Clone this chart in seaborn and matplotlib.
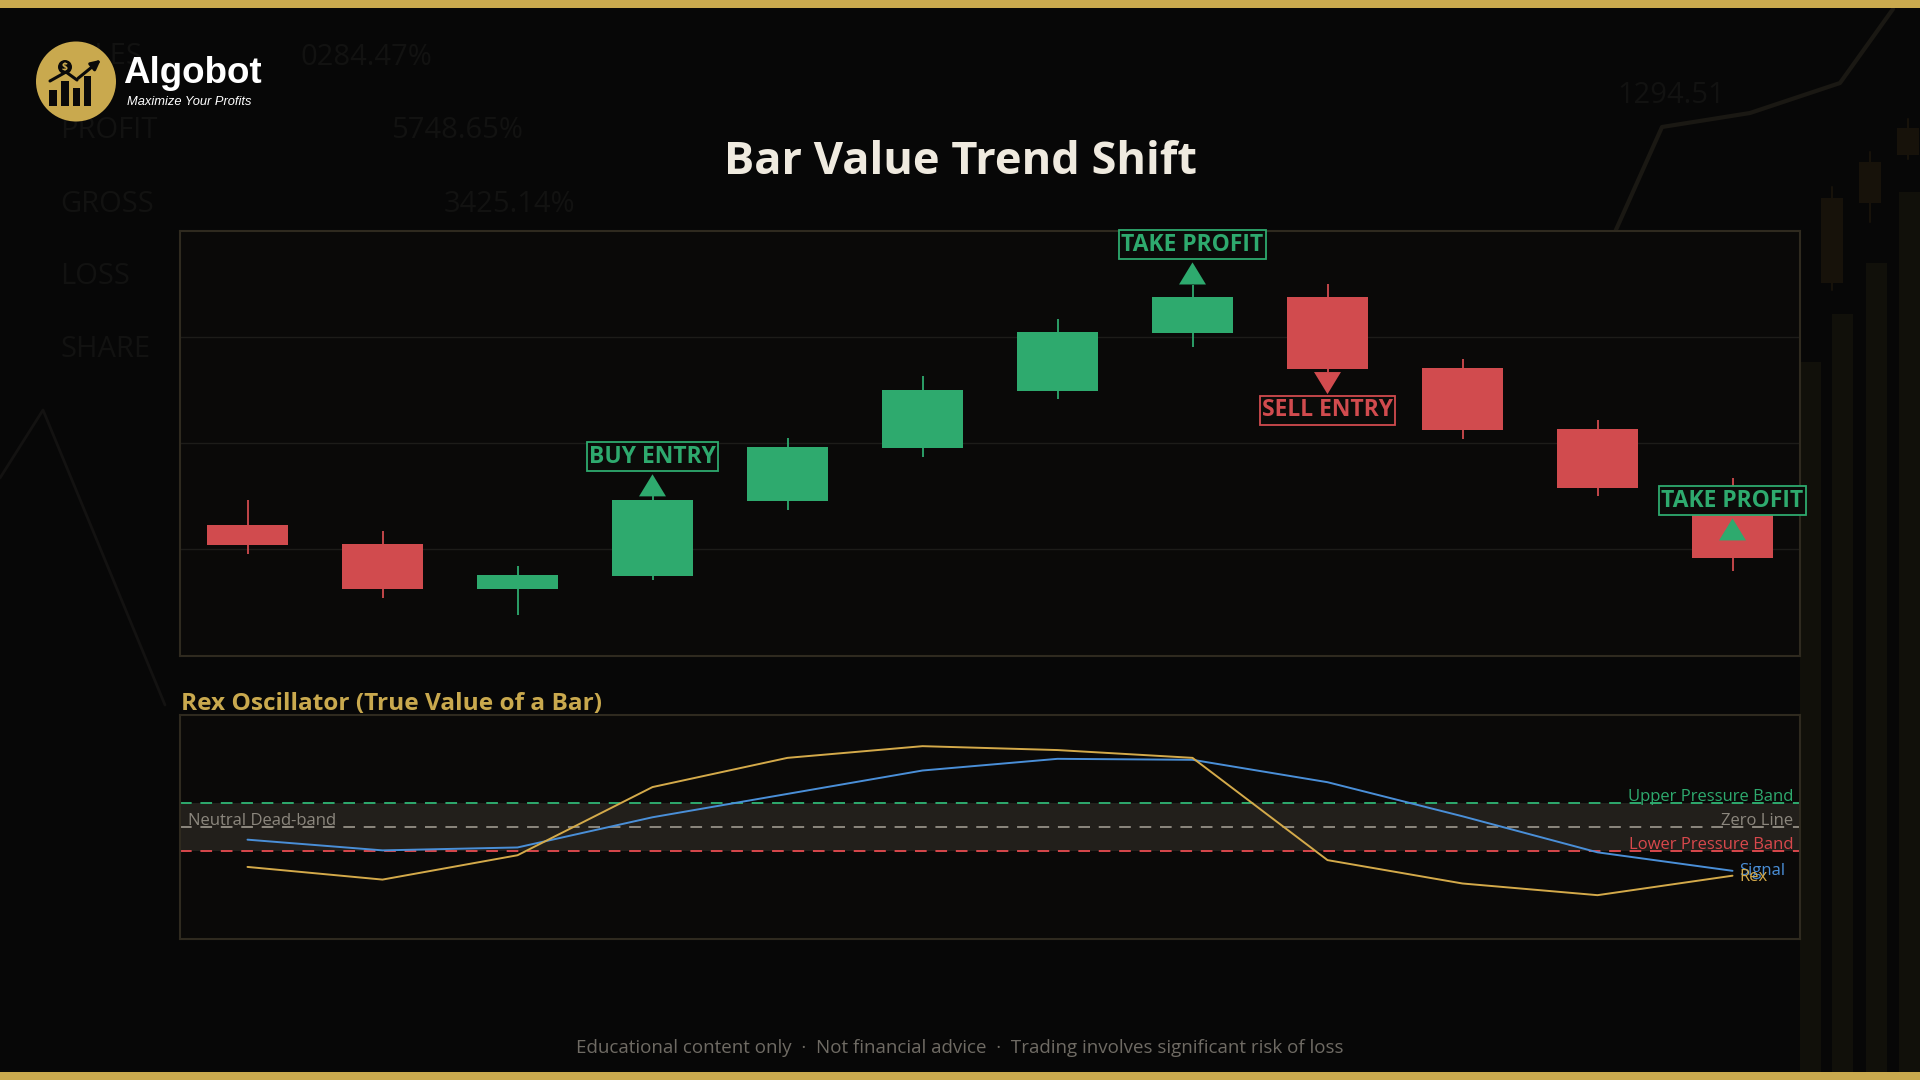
import matplotlib
matplotlib.use('Agg')
import matplotlib.pyplot as plt
import seaborn as sns
import numpy as np
from matplotlib.patches import Rectangle, Circle

# ---- data ----
bars = list(range(12))
opens = [100.90, 100.20, 98.51, 99.00, 101.83, 103.81, 105.96, 108.15, 109.50, 106.83, 104.53, 102.34]
highs = [101.85, 100.69, 99.37, 102.00, 104.19, 106.53, 108.67, 109.95, 109.99, 107.17, 104.87, 102.68]
lows = [99.83, 98.17, 97.53, 98.85, 101.49, 103.47, 105.66, 107.62, 106.68, 104.15, 102.00, 99.19]
closes = [100.17, 98.51, 99.03, 101.85, 103.85, 106.00, 108.18, 109.50, 106.79, 104.49, 102.32, 99.68]

rex = [-0.41, -0.54, -0.29, 0.41, 0.71, 0.83, 0.79, 0.71, -0.34, -0.58, -0.70, -0.50]
signal = [-0.13, -0.24, -0.21, 0.10, 0.34, 0.58, 0.70, 0.69, 0.46, 0.11, -0.26, -0.45]

signal_bars = [3, 7, 8, 11]
signal_kinds = ['up', 'up', 'down', 'up']
signal_labels = ['BUY ENTRY', 'TAKE PROFIT', 'SELL ENTRY', 'TAKE PROFIT']
signal_prices = [102.41, 110.39, 106.26, 100.75]

upper_band = 0.25
zero_line = 0.0
lower_band = -0.25

# ---- colours ----
GOLD = '#c9a94e'
GREEN = '#2eaa6e'
RED = '#d14b4e'
BLUE = '#4a8fd8'
REX_GOLD = '#d4aa4a'
GREY = '#8c877e'
FRAME = '#2f2a1f'
PANEL = '#0a0908'
GHOST = '#121211'

sns.set_theme(style='dark')
plt.rcParams['font.family'] = ['Open Sans', 'DejaVu Sans']

fig = plt.figure(figsize=(19.2, 10.8), dpi=100, facecolor='#070707')

# ---- background layer (pixel coords) ----
bg = fig.add_axes([0, 0, 1, 1], zorder=-5)
bg.set_xlim(0, 1920)
bg.set_ylim(1080, 0)
bg.set_facecolor('#070707')
bg.axis('off')

# faint decorative backdrop
ghost_words = ['SALES', 'PROFIT', 'GROSS', 'LOSS', 'SHARE']
for w, y in zip(ghost_words, [64, 138, 212, 284, 357]):
    bg.text(60, y, w, color=GHOST, fontsize=21, va='baseline', zorder=0)
for w, x, y in [('0284.47%', 300, 65), ('5748.65%', 391, 138),
                ('3425.14%', 444, 212), ('1294.51', 1617, 103)]:
    bg.text(x, y, w, color=GHOST, fontsize=21, va='baseline', zorder=0)

bg.plot([0, 43, 165], [478, 410, 705], color='#131211', lw=2, zorder=0)
bg.plot([1615, 1662, 1750, 1840, 1893], [232, 127, 113, 83, 9], color='#1a1813', lw=3, zorder=0)
for x, top in zip([1800, 1832, 1866, 1899], [362, 314, 263, 192]):
    bg.add_patch(Rectangle((x, top), 21, 1072 - top, color='#11100a', lw=0, zorder=0))
for x, b0, b1, w0, w1 in [(1821, 198, 283, 187, 290), (1859, 162, 203, 152, 222),
                          (1897, 128, 155, 119, 159)]:
    bg.add_patch(Rectangle((x, b0), 22, b1 - b0, color='#17120a', lw=0, zorder=0))
    bg.plot([x + 11, x + 11], [w0, w1], color='#17120a', lw=1.5, zorder=0)

# gold bars
bg.add_patch(Rectangle((0, 0), 1920, 8, color=GOLD, lw=0, zorder=3))
bg.add_patch(Rectangle((0, 1072), 1920, 8, color=GOLD, lw=0, zorder=3))

# logo
bg.add_patch(Circle((76, 81.5), 40, color=GOLD, lw=0, zorder=3))
for x, top, w in [(49.3, 89.7, 7.4), (60.7, 81.3, 8), (72.7, 88, 7.3), (84, 76.3, 7.3)]:
    bg.add_patch(Rectangle((x, top), w, 106.3 - top, color='#0a0a0a', lw=0, zorder=4))
bg.plot([50, 66, 77], [81, 72, 80], color='#0a0a0a', lw=2.2, solid_capstyle='round', zorder=4)
bg.annotate('', xy=(103, 58), xytext=(76, 80), zorder=4,
            arrowprops=dict(arrowstyle='-|>', lw=2.2, color='#0a0a0a', mutation_scale=14))
bg.add_patch(Circle((65, 67), 7, color='#0a0a0a', lw=0, zorder=4))
bg.text(65, 67.5, '$', color=GOLD, fontsize=7.5, fontweight='bold', ha='center', va='center',
        zorder=5)
bg.text(123, 83, 'Algobot', color='white', fontsize=26.5, fontweight='bold',
        family='Liberation Sans', va='baseline', zorder=4)
bg.text(127, 104.7, 'Maximize Your Profits', color='white', fontsize=9.3, style='italic',
        family='Liberation Sans', va='baseline', zorder=4)

# titles and footer
bg.text(960, 174, 'Bar Value Trend Shift', color='#efeadf', fontsize=32.5,
        fontweight='bold', ha='center', va='baseline', zorder=4)
bg.text(181, 710, 'Rex Oscillator (True Value of a Bar)', color=GOLD, fontsize=17.6,
        fontweight='bold', ha='left', va='baseline', zorder=4)
bg.text(960, 1053, 'Educational content only  ·  Not financial advice  ·  Trading involves significant risk of loss',
        color='#6f6b64', fontsize=13.5, ha='center', va='baseline', zorder=4)

# ---- main candle panel ----
ax = fig.add_axes([180 / 1920, 1 - 655.5 / 1080, 1620 / 1920, 424.8 / 1080])
ax.set_facecolor(PANEL)
o = np.array(opens)
c = np.array(closes)
cols = [GREEN if cc >= oo else RED for oo, cc in zip(opens, closes)]
ax.vlines(bars, lows, highs, colors=cols, lw=1.3, zorder=2)
ax.bar(bars, np.abs(c - o), bottom=np.minimum(o, c), width=0.6, color=cols, lw=0, zorder=3)

tri_up = [(-1, -0.82), (1, -0.82), (0, 0.82)]
tri_dn = [(-1, 0.82), (1, 0.82), (0, -0.82)]
for b, kind, lab, p in zip(signal_bars, signal_kinds, signal_labels, signal_prices):
    col = GREEN if lab != 'SELL ENTRY' else RED
    mk = tri_up if kind == 'up' else tri_dn
    sns.scatterplot(x=[b], y=[p], marker=mk, s=19.4 ** 2, color=col, edgecolor='none',
                    linewidth=0, ax=ax, zorder=5, clip_on=False)
    ly = p + 1.08 if kind == 'up' else p - 1.03
    ax.text(b, ly, lab, color=col, fontsize=16.5, fontweight='bold', ha='center', va='center',
            zorder=6, clip_on=False,
            bbox=dict(boxstyle='square,pad=0.1', fc='#0b0b09', ec=col, lw=1.3))

ax.set_xlim(-0.5, 11.5)
ax.set_ylim(96, 112)
ax.set_yticks([100, 104, 108])
ax.set_xticks([])
ax.grid(axis='y', color='#1d1c19', lw=1)
ax.grid(axis='x', visible=False)
ax.tick_params(length=0, labelleft=False, labelbottom=False)
ax.set(xlabel=None, ylabel=None)
for s in ax.spines.values():
    s.set_visible(True)
    s.set_color(FRAME)
    s.set_linewidth(1.5)

# ---- oscillator panel ----
osc = fig.add_axes([180 / 1920, 1 - 939 / 1080, 1620 / 1920, 224 / 1080])
osc.set_facecolor(PANEL)
osc.axhspan(lower_band, upper_band, color='#221f1b', lw=0, zorder=0)
for val, col in [(upper_band, GREEN), (zero_line, GREY), (lower_band, '#d9484c')]:
    osc.axhline(val, color=col, lw=1.4, linestyle=(0, (6, 4.5)), zorder=1)

sns.lineplot(x=bars, y=signal, ax=osc, color=BLUE, lw=1.4, zorder=3)
sns.lineplot(x=bars, y=rex, ax=osc, color=REX_GOLD, lw=1.4, zorder=4)

osc.annotate('Signal', xy=(bars[-1], signal[-1]), xytext=(5, 0), textcoords='offset points',
             color=BLUE, fontsize=12, va='center', ha='left', zorder=5)
osc.annotate('Rex', xy=(bars[-1], rex[-1]), xytext=(5, -1), textcoords='offset points',
             color=REX_GOLD, fontsize=12, va='center', ha='left', zorder=6)

ytr = osc.get_yaxis_transform()
for txt, val, col in [('Upper Pressure Band', upper_band, GREEN),
                      ('Zero Line', zero_line, GREY),
                      ('Lower Pressure Band', lower_band, '#d9484c')]:
    osc.annotate(txt, xy=(1, val), xycoords=ytr, xytext=(-5, 1.5), textcoords='offset points',
                 color=col, fontsize=12, ha='right', va='baseline', zorder=5)
osc.annotate('Neutral Dead-band', xy=(0, zero_line), xycoords=ytr, xytext=(6, 1.5),
             textcoords='offset points', color=GREY, fontsize=12, ha='left', va='baseline', zorder=5)

osc.set_xlim(-0.5, 11.5)
osc.set_ylim(-1.15, 1.15)
osc.set_xticks([])
osc.set_yticks([])
osc.grid(False)
osc.set(xlabel=None, ylabel=None)
for s in osc.spines.values():
    s.set_visible(True)
    s.set_color(FRAME)
    s.set_linewidth(1.5)

fig.savefig('out.png', dpi=100, facecolor=fig.get_facecolor())
plt.close(fig)
